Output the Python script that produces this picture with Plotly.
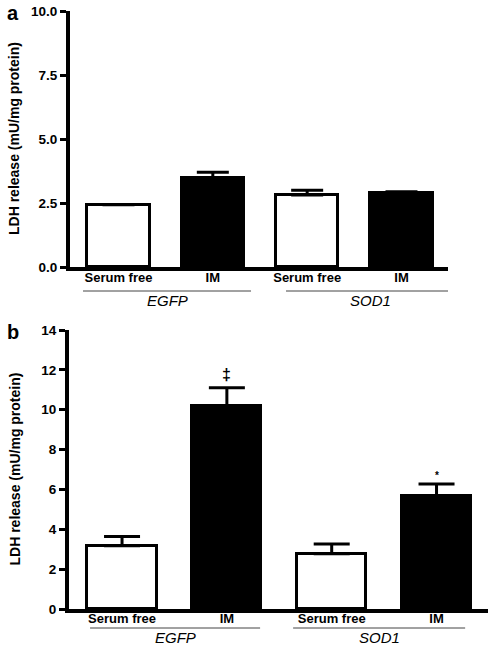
import plotly.graph_objects as go

# ---- data ----
categories = ["Serum free", "IM", "Serum free", "IM"]
groups = ["EGFP", "SOD1"]
fills = ["white", "black", "white", "black"]

a_values = [2.43, 3.46, 2.81, 2.90]
a_err = [0.0, 0.24, 0.19, 0.04]
a_ticks = [0.0, 2.5, 5.0, 7.5, 10.0]
a_ticktext = ["0.0", "2.5", "5.0", "7.5", "10.0"]

b_values = [3.17, 10.2, 2.77, 5.65]
b_err = [0.47, 0.90, 0.49, 0.62]
b_marks = ["", "‡", "", "*"]
b_ticks = [0, 2, 4, 6, 8, 10, 12, 14]

ytitle = "LDH release (mU/mg protein)"
FONT = "Liberation Sans, Arial, sans-serif"
W, H = 496, 648

xpos = list(range(len(categories)))

fig = go.Figure()

fig.add_trace(go.Bar(
    x=xpos, y=a_values, width=0.66,
    marker=dict(color=fills, line=dict(color="black", width=3)),
    error_y=dict(type="data", array=a_err, arrayminus=[0] * 4, symmetric=False,
                 color="black", thickness=3, width=16),
    xaxis="x", yaxis="y", showlegend=False,
))
fig.add_trace(go.Bar(
    x=xpos, y=b_values, width=0.66,
    marker=dict(color=fills, line=dict(color="black", width=3)),
    error_y=dict(type="data", array=b_err, arrayminus=[0] * 4, symmetric=False,
                 color="black", thickness=3, width=18),
    xaxis="x2", yaxis="y2", showlegend=False,
))

def px_x(p):
    return p / W

def px_y(p):
    return 1 - p / H

tickfont = dict(family=FONT, size=13, color="black")
common_y = dict(showline=True, linewidth=4, linecolor="black", ticks="outside",
                ticklen=6, tickwidth=3, tickcolor="black", showgrid=False,
                zeroline=False, automargin=False,
                tickfont=dict(family=FONT, size=13.5, color="black"))
common_x = dict(showline=True, linewidth=4, linecolor="black", ticks="",
                showgrid=False, zeroline=False, automargin=False, tickvals=xpos,
                ticklabelstandoff=-5,
                ticktext=["<b>" + c + "</b>" for c in categories], tickfont=tickfont)

A_TOP, A_BOT = 11, 267
B_TOP, B_BOT = 330, 609

fig.update_layout(
    width=W, height=H, margin=dict(l=0, r=0, t=0, b=0),
    plot_bgcolor="white", paper_bgcolor="white", bargap=0,
    xaxis=dict(domain=[px_x(70), px_x(448)], range=[-0.514, 3.493], anchor="y", **common_x),
    yaxis=dict(domain=[px_y(A_BOT), px_y(A_TOP)], range=[0, 10], anchor="x",
               tickvals=a_ticks, ticktext=["<b>" + t + "</b>" for t in a_ticktext], **common_y),
    xaxis2=dict(domain=[px_x(69), px_x(488)], range=[-0.506, 3.491], anchor="y2", **common_x),
    yaxis2=dict(domain=[px_y(B_BOT), px_y(B_TOP)], range=[0, 14], anchor="x2",
                tickvals=b_ticks, ticktext=["<b>%d</b>" % t for t in b_ticks], **common_y),
)
fig.update_xaxes(ticklabelstandoff=-6, selector=dict(anchor="y2"))

shapes = []
annotations = []
# group underlines and group labels
for xa, ly, lab_y, segs in [
    ("x", 291, 300, [(-0.376, 1.405), (1.776, 3.568)]),
    ("x2", 628, 637, [(-0.305, 1.317), (1.632, 3.273)]),
]:
    for (x0, x1), g in zip(segs, groups):
        shapes.append(dict(type="line", xref=xa, yref="paper", x0=x0, x1=x1,
                           y0=px_y(ly), y1=px_y(ly), line=dict(color="#444", width=1)))
        annotations.append(dict(xref=xa, yref="paper", x=(x0 + x1) / 2, y=px_y(lab_y),
                                text="<i>" + g + "</i>", showarrow=False,
                                font=dict(family=FONT, size=15, color="black"),
                                xanchor="center", yanchor="middle"))

# y-axis titles
for top, bot in [(A_TOP, A_BOT), (B_TOP, B_BOT)]:
    annotations.append(dict(xref="paper", yref="paper", x=px_x(14), y=px_y((top + bot) / 2),
                            text="<b>" + ytitle + "</b>", textangle=-90, showarrow=False,
                            font=dict(family=FONT, size=14, color="black"),
                            xanchor="center", yanchor="middle"))

# significance marks
for i, m in enumerate(b_marks):
    if m:
        annotations.append(dict(xref="x2", yref="y2", x=xpos[i], y=b_values[i] + b_err[i],
                                text="<b>" + m + "</b>", showarrow=False,
                                yshift=13 if m == "‡" else 9,
                                font=dict(family=FONT, size=16 if m == "‡" else 10, color="black"),
                                xanchor="center", yanchor="middle"))

# panel letters
for letter, yy in [("a", 13), ("b", 332)]:
    annotations.append(dict(xref="paper", yref="paper", x=px_x(13), y=px_y(yy),
                            text="<b>" + letter + "</b>", showarrow=False,
                            font=dict(family=FONT, size=20, color="black"),
                            xanchor="center", yanchor="middle"))

fig.update_layout(shapes=shapes, annotations=annotations)
fig.write_html("out.html", config={"displayModeBar": False},
               post_script="document.body.style.margin='0px';")
